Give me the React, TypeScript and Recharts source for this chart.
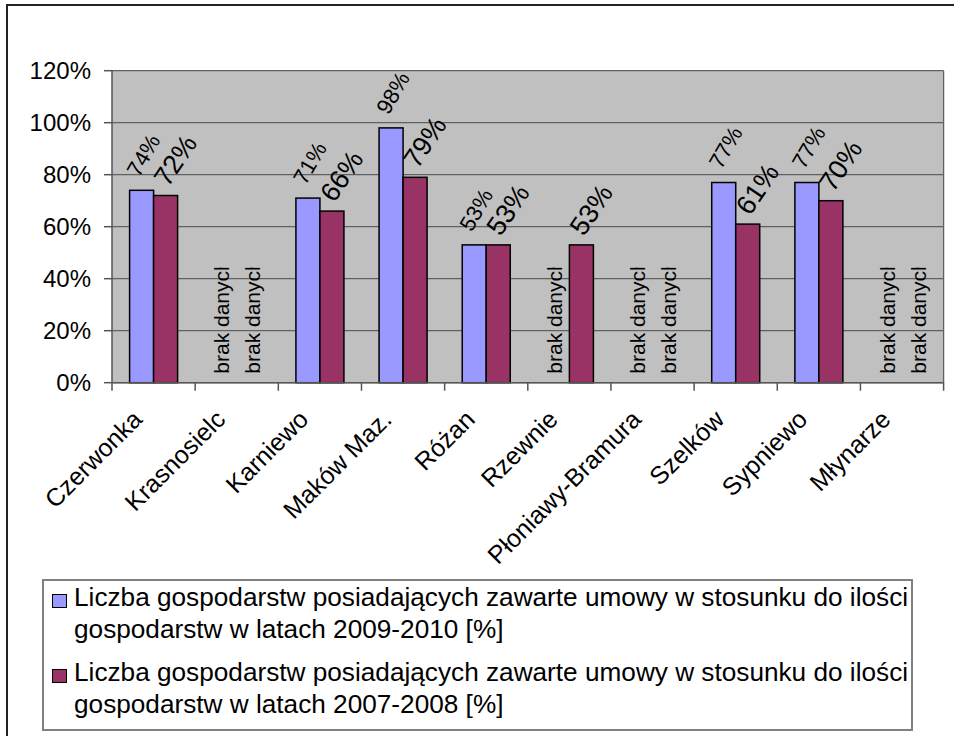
import React from 'react';
import { BarChart, Bar, XAxis, YAxis, CartesianGrid, LabelList, Legend } from 'recharts';

const FONT = '"Liberation Sans", Arial, Helvetica, sans-serif';

const categories = [
  'Czerwonka',
  'Krasnosielc',
  'Karniewo',
  'Maków Maz.',
  'Różan',
  'Rzewnie',
  'Płoniawy-Bramura',
  'Szelków',
  'Sypniewo',
  'Młynarze',
];

// null = "brak danych" (no data)
const series2009: (number | null)[] = [74, null, 71, 98, 53, null, null, 77, 77, null];
const series2007: (number | null)[] = [72, null, 66, 79, 53, 53, null, 61, 70, null];

const yTicks = [0, 20, 40, 60, 80, 100, 120];

const seriesNames = [
  'Liczba gospodarstw posiadających zawarte umowy w stosunku do ilości\ngospodarstw w latach 2009-2010 [%]',
  'Liczba gospodarstw posiadających zawarte umowy w stosunku do ilości\ngospodarstw w latach 2007-2008 [%]',
];

const seriesColors = ['#9999FF', '#993366'];
const missingText = 'brak danych';

const data = categories.map((name, i) => ({
  name,
  s1: series2009[i] ?? 0,
  s2: series2007[i] ?? 0,
  l1: series2009[i] == null ? missingText : `${series2009[i]}%`,
  l2: series2007[i] == null ? missingText : `${series2007[i]}%`,
}));

const BarShape = (props: any) => {
  const { x, y, width, height, fill } = props;
  if (!height || !isFinite(height) || height <= 0) return <g />;
  return (
    <rect x={x} y={y} width={width} height={height} fill={fill} stroke="#000" strokeWidth={1.5} />
  );
};

let clipCounter = 0;

const makeLabel =
  (dx: number, dy: number, size: number, angle: number, missingShift: number, tag: string) =>
  (props: any) => {
    const vb = props.viewBox && props.viewBox.width != null ? props.viewBox : props;
    const x = Number(vb.x);
    const y = Number(vb.y);
    const width = Number(vb.width);
    const value = props.value;
    if (!isFinite(x) || !isFinite(y)) return <g />;
    if (value === missingText) {
      const fs = 21;
      const bx = x + width / 2 + missingShift;
      const by = y - 9;
      const id = `clip-${tag}-${props.index ?? clipCounter++}`;
      return (
        <g transform={`translate(${bx},${by}) rotate(-90)`}>
          <defs>
            <clipPath id={id}>
              <rect x={-4} y={-40} width={fs * 5.06 + 4} height={80} />
            </clipPath>
          </defs>
          <text
            x={0}
            y={0}
            dominantBaseline="central"
            fontSize={fs}
            fontFamily={FONT}
            fill="#000"
            clipPath={`url(#${id})`}
          >
            {value}
          </text>
        </g>
      );
    }
    const cx = x + width / 2 + dx;
    const cy = y - dy;
    return (
      <text
        x={cx}
        y={cy}
        transform={`rotate(${angle} ${cx} ${cy})`}
        textAnchor="middle"
        dominantBaseline="central"
        fontSize={size}
        fontFamily={FONT}
        fill="#000"
      >
        {value}
      </text>
    );
  };

const blueLabel = makeLabel(2, 35, 22, -60, -3, 'b');
const redLabel = makeLabel(10, 35, 27, -56, 4, 'r');

const XTick = (props: any) => {
  const { x, y, payload, index, visibleTicksCount } = props;
  const half = payload && isFinite(payload.offset) && payload.offset > 0 ? payload.offset : 41.6;
  const last = index === visibleTicksCount - 1;
  return (
    <g>
      <line x1={x - half} x2={x - half} y1={y} y2={y + 8} stroke="#555" strokeWidth={1.5} />
      {last && <line x1={x + half} x2={x + half} y1={y} y2={y + 8} stroke="#555" strokeWidth={1.5} />}
      <text
        transform={`translate(${x - 10},${y + 38.3}) rotate(-45)`}
        textAnchor="end"
        fontSize={25}
        fontFamily={FONT}
        fill="#000"
      >
        {payload.value}
      </text>
    </g>
  );
};

const renderLegend = (props: any) => {
  const payload: any[] = props.payload || [];
  const order = ['s1', 's2'];
  const items = order.map((k, i) => {
    const p = payload.find((e) => e && e.dataKey === k);
    return {
      value: p ? p.value : seriesNames[i],
      color: p ? p.color || seriesColors[i] : seriesColors[i],
    };
  });
  return (
    <div
      style={{
        boxSizing: 'border-box',
        width: 871,
        height: 152,
        border: '2px solid #808080',
        background: '#fff',
        position: 'relative',
        fontFamily: FONT,
        fontSize: 26.2,
        color: '#000',
      }}
    >
      {items.map((it, i) => (
        <div key={i} style={{ position: 'absolute', left: 0, top: 1.2 + i * 75, width: 860, height: 63 }}>
          <div
            style={{
              position: 'absolute',
              left: 7.7,
              top: 11.8,
              width: 15,
              height: 14,
              boxSizing: 'border-box',
              background: it.color,
              border: '1.5px solid #000',
            }}
          />
          <div
            style={{
              position: 'absolute',
              left: 30,
              top: 0,
              whiteSpace: 'pre',
              lineHeight: '31.5px',
            }}
          >
            {it.value}
          </div>
        </div>
      ))}
    </div>
  );
};

export default function App() {
  return (
    <div
      style={{
        position: 'absolute',
        left: 0,
        top: 0,
        width: 954,
        height: 736,
        overflow: 'hidden',
        background: '#fff',
        fontFamily: FONT,
      }}
    >
      <div style={{ position: 'absolute', left: 6, top: 4, width: 960, height: 2, background: '#222' }} />
      <div style={{ position: 'absolute', left: 6, top: 4, width: 2, height: 760, background: '#222' }} />
      <div style={{ position: 'absolute', left: 0, top: 0 }}>
        <BarChart
          width={954}
          height={736}
          data={data}
          margin={{ top: 70.7, right: 10.4, bottom: 303.3, left: 0 }}
          barCategoryGap={17.6}
          barGap={0}
        >
          <CartesianGrid
            fill="#C0C0C0"
            stroke="#606060"
            strokeWidth={1.3}
            vertical={true}
            verticalCoordinatesGenerator={(p: any) => {
              const o = p && p.offset;
              return o ? [o.left + o.width] : [];
            }}
          />
          <YAxis
            width={112}
            domain={[0, 120]}
            ticks={yTicks}
            interval={0}
            tickFormatter={(v: number) => `${v}%`}
            axisLine={{ stroke: '#555', strokeWidth: 1.5 }}
            tickLine={{ stroke: '#555', strokeWidth: 1.5 }}
            tickSize={8}
            tickMargin={13}
            tick={{ fontSize: 24, fill: '#000', fontFamily: FONT }}
          />
          <XAxis
            dataKey="name"
            height={50}
            interval={0}
            axisLine={{ stroke: '#555', strokeWidth: 1.5 }}
            tickLine={false}
            tickSize={0}
            tickMargin={0}
            tick={<XTick />}
          />
          <Legend
            layout="horizontal"
            verticalAlign="middle"
            align="center"
            wrapperStyle={{ left: 42, top: 579, width: 871, height: 152 }}
            content={renderLegend}
          />
          <Bar
            dataKey="s1"
            name={seriesNames[0]}
            fill={seriesColors[0]}
            stroke="#000"
            strokeWidth={1.5}
            shape={BarShape}
            isAnimationActive={false}
          >
            <LabelList dataKey="l1" content={blueLabel} />
          </Bar>
          <Bar
            dataKey="s2"
            name={seriesNames[1]}
            fill={seriesColors[1]}
            stroke="#000"
            strokeWidth={1.5}
            shape={BarShape}
            isAnimationActive={false}
          >
            <LabelList dataKey="l2" content={redLabel} />
          </Bar>
        </BarChart>
      </div>
    </div>
  );
}
